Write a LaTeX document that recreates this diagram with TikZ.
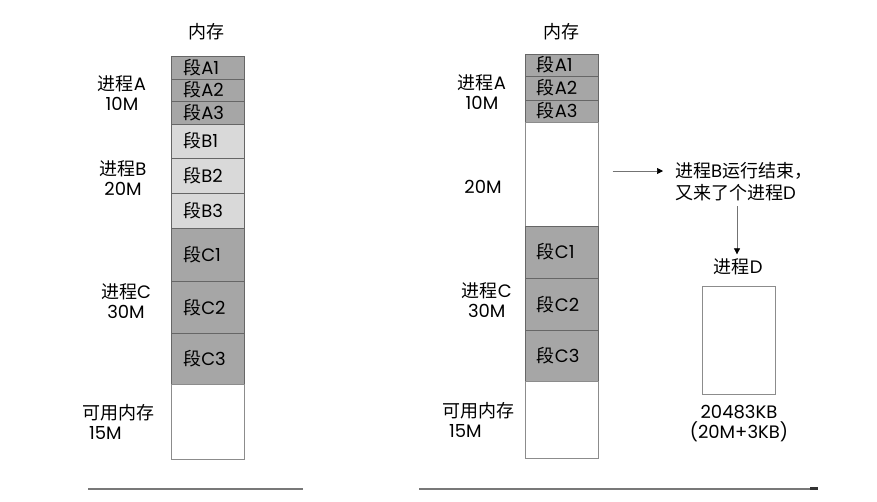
\documentclass[tikz,border=0pt]{standalone}
\usepackage{fontspec}
\setmainfont{Poppins}
\newfontfamily\cjk{Noto Sans CJK SC}
\usetikzlibrary{arrows.meta, positioning}
\definecolor{segDark}{RGB}{166,166,166}
\definecolor{segLight}{RGB}{217,217,217}
\definecolor{lineGray}{RGB}{120,120,120}
\newcommand{\zh}[1]{{\cjk #1}}

\begin{document}
\begin{tikzpicture}[
    x=1pt, y=-1pt,
    seg/.style={
        draw=black!60,
        line width=0.7pt,
        anchor=north west,
        text width=49pt,
        inner xsep=12pt,
        inner ysep=0pt,
        align=left,
        font=\fontsize{18}{18}\selectfont
    },
    seg_a/.style={seg, fill=segDark},
    seg_b/.style={seg, fill=segLight},
    seg_c/.style={seg, fill=segDark},
    seg_free/.style={seg, fill=white, draw=black!45},
    proc_label/.style={
        align=center,
        inner sep=1pt,
        font=\fontsize{18}{20}\selectfont
    },
    title_label/.style={
        inner sep=1pt,
        font=\fontsize{18}{18}\selectfont
    },
    flow/.style={
        -{Triangle[length=6pt, width=6pt, color=black]},
        draw=black!55,
        line width=0.7pt
    },
    time_line/.style={
        draw=lineGray,
        line width=2pt
    }
]
    \useasboundingbox (0,0) rectangle (877,501);

    % Before: memory column
    \node[title_label] (memL) at (206.7,31.7) {\zh{内存}};
    \node[seg_a, minimum height=22.5pt] (lA1) at (171,56) {\zh{段}A1};
    \node[seg_a, minimum height=22.5pt] (lA2) at (171,78.5) {\zh{段}A2};
    \node[seg_a, minimum height=22.5pt] (lA3) at (171,101) {\zh{段}A3};
    \node[seg_b, minimum height=34.5pt] (lB1) at (171,123.5) {\zh{段}B1};
    \node[seg_b, minimum height=35pt] (lB2) at (171,158) {\zh{段}B2};
    \node[seg_b, minimum height=35pt] (lB3) at (171,193) {\zh{段}B3};
    \node[seg_c, minimum height=53pt] (lC1) at (171,228) {\zh{段}C1};
    \node[seg_c, minimum height=52pt] (lC2) at (171,281) {\zh{段}C2};
    \node[seg_c, minimum height=50.5pt] (lC3) at (171,333) {\zh{段}C3};
    \node[seg_free, minimum height=75.5pt] (lFree) at (171,383.5) {};

    \node[proc_label] (lblA) at (122,93) {\zh{进程}A\\10M};
    \node[proc_label] (lblB) at (123,178.5) {\zh{进程}B\\20M};
    \node[proc_label] (lblC) at (126,301) {\zh{进程}C\\30M};
    \node[proc_label, align=left] (lblFree) at (118,421.5) {\zh{可用内存}\\\hspace*{7pt}15M};

    % After: memory column
    \node[title_label] (memR) at (561.7,31.7) {\zh{内存}};
    \node[seg_a, minimum height=22.5pt] (rA1) at (524.5,53.5) {\zh{段}A1};
    \node[seg_a, minimum height=23.5pt] (rA2) at (524.5,76) {\zh{段}A2};
    \node[seg_a, minimum height=22.5pt] (rA3) at (524.5,99.5) {\zh{段}A3};
    \node[seg_free, minimum height=103.5pt] (rHole) at (524.5,122) {};
    \node[seg_c, minimum height=52.5pt] (rC1) at (524.5,225.5) {\zh{段}C1};
    \node[seg_c, minimum height=52pt] (rC2) at (524.5,278) {\zh{段}C2};
    \node[seg_c, minimum height=51pt] (rC3) at (524.5,330) {\zh{段}C3};
    \node[seg_free, minimum height=76.5pt] (rFree) at (524.5,381) {};

    \node[proc_label] (rlblA) at (482,92) {\zh{进程}A\\10M};
    \node[proc_label] (rlblHole) at (483,186.7) {20M};
    \node[proc_label] (rlblC) at (486.7,300) {\zh{进程}C\\30M};
    \node[proc_label, align=left] (rlblFree) at (478,419.5) {\zh{可用内存}\\\hspace*{7pt}15M};

    % New process D
    \node[proc_label, align=left, anchor=west, inner xsep=12pt,
          font=\fontsize{18}{22}\selectfont] (note) at (663,182)
        {\zh{进程}B\zh{运行结束，}\\\zh{又来了个进程}D};
    \coordinate (arrH) at (612.7,171);
    \draw[flow] (arrH) -- (arrH -| note.west);

    \node[title_label] (procLbl) at (738.3,266.7) {\zh{进程}D};
    \coordinate (arrV) at (737,206);
    \draw[flow, shorten >=3pt] (arrV) -- (arrV |- procLbl.north);

    \node[seg_free, minimum height=108.3pt, text width=49.3pt] (procD) at (701.7,285.7) {};
    \node[proc_label] (sizeLbl) at (739,424) {20483KB\\(20M+3KB)};

    % Time lines
    \coordinate (tl1s) at (88,488.5);
    \coordinate (tl1e) at (302.7,488.5);
    \coordinate (tl2s) at (419.3,488.5);
    \coordinate (tl2e) at (818,488.5);
    \draw[time_line] (tl1s) -- (tl1e);
    \draw[time_line, -{Rectangle[length=8pt, width=2.5pt, color=black!80]}] (tl2s) -- (tl2e);
\end{tikzpicture}
\end{document}
